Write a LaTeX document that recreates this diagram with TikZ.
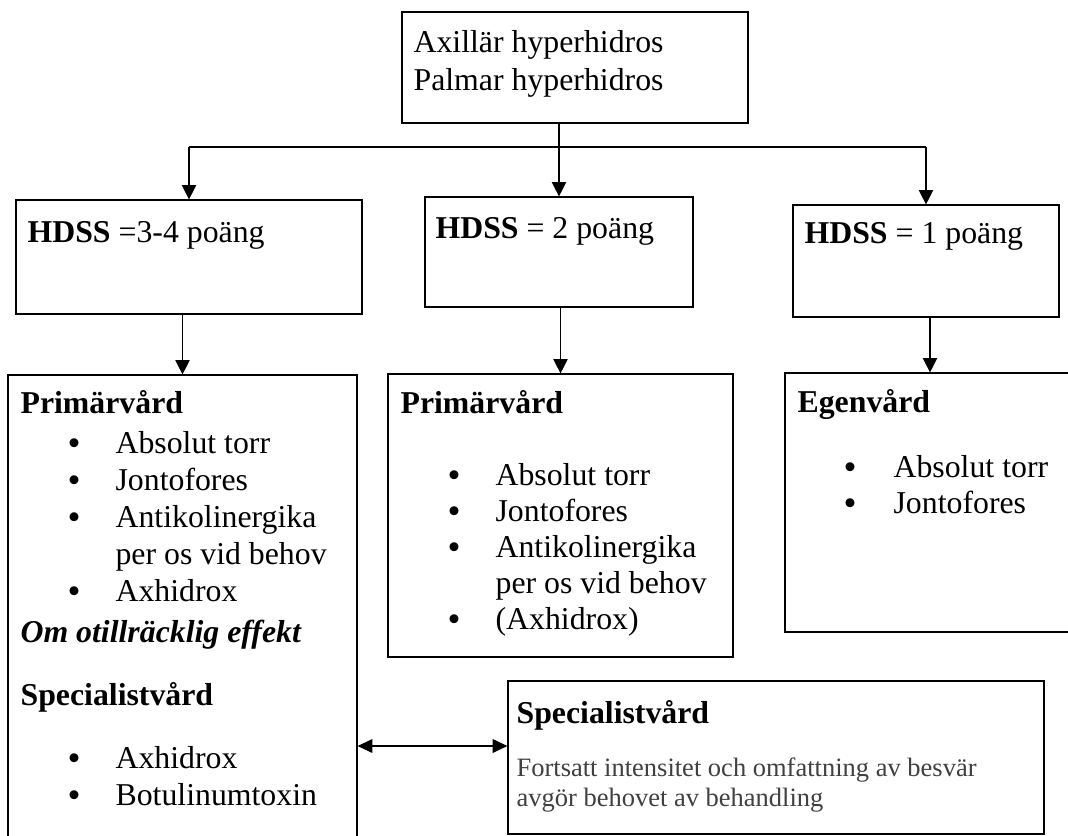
\documentclass[tikz,border=0pt]{standalone}
\usepackage{fontspec}
\setmainfont{Liberation Serif}
\usetikzlibrary{arrows.meta, fit}
\definecolor{notegray}{HTML}{404040}

\begin{document}
\begin{tikzpicture}[x=0.3774pt, y=-0.3774pt, line width=0.45pt,
  box/.style={draw, inner sep=0pt},
  txt/.style={anchor=base west, inner sep=0pt, font=\fontsize{12}{14}\selectfont},
  head/.style={txt, font=\fontsize{12}{14}\selectfont\bfseries},
  bul/.style={txt, font=\fontsize{14}{14}\selectfont, yshift=-0.8pt},
  note/.style={txt, font=\fontsize{10}{12}\selectfont, text=notegray},
  arr/.style={-{Triangle[length=5.4pt, width=5.4pt]}},
  dblarr/.style={{Triangle[length=5.6pt, width=5.2pt]}-{Triangle[length=5.6pt, width=5.2pt]}}]
% page 1068 x 835 px, y grows downwards
\useasboundingbox (0,0) rectangle (1068,835);
\clip (0,0) rectangle (1068,835);
% boxes
\node[box, fit={(402,12) (748,123)}] (top) {};
\node[box, fit={(16,200) (362,314)}] (b1) {};
\node[box, fit={(425,197) (693,307)}] (b2) {};
\node[box, fit={(793,205) (1059,317)}] (b3) {};
\node[box, fit={(8,375) (357,850)}] (l1) {};
\node[box, fit={(388,374) (733,657)}] (l2) {};
\node[box, fit={(785,373) (1075,632)}] (l3) {};
\node[box, fit={(508,681) (1044,834)}] (sp) {};
% top box
\node[txt] (ax) at (413,52) {Axillär hyperhidros};
\node[txt] (pa) at (413,90) {Palmar hyperhidros};
% HDSS boxes
\node[txt] (h1) at (27,242) {\textbf{HDSS} =3-4 poäng};
\node[txt] (h2) at (435,238) {\textbf{HDSS} = 2 poäng};
\node[txt] (h3) at (804,243) {\textbf{HDSS} = 1 poäng};
% HDSS 3-4: primary care, then specialist care
\node[head] (lhead) at (20,413) {Primärvård};
\foreach \y/\t [count=\i] in {453/Absolut torr, 490/Jontofores, 527/Antikolinergika, 601/Axhidrox} {
  \node[bul] (ldot\i) at (67,\y) {\smash{•}};
  \node[txt] (litem\i) at (115,\y) {\t};
}
\node[txt] (lcont) at (115,564) {per os vid behov};
\node[head, font=\fontsize{12}{14}\selectfont\bfseries\itshape] (lnote) at (20,642) {Om otillräcklig effekt};
\node[head] (lspec) at (20,705) {Specialistvård};
\foreach \y/\t [count=\i] in {768/Axhidrox, 805/Botulinumtoxin} {
  \node[bul] (sdot\i) at (67,\y) {\smash{•}};
  \node[txt] (sitem\i) at (115,\y) {\t};
}
% HDSS 2
\node[head] (mhead) at (400,413) {Primärvård};
\foreach \y/\t [count=\i] in {485/Absolut torr, 521/Jontofores, 557/Antikolinergika, 629/(Axhidrox)} {
  \node[bul] (mdot\i) at (447,\y) {\smash{•}};
  \node[txt] (mitem\i) at (495,\y) {\t};
}
\node[txt] (mcont) at (495,593) {per os vid behov};
% HDSS 1
\node[head] (rhead) at (797,412) {Egenvård};
\foreach \y/\t [count=\i] in {477/Absolut torr, 513/Jontofores} {
  \node[bul] (rdot\i) at (843,\y) {\smash{•}};
  \node[txt] (ritem\i) at (893,\y) {\t};
}
% specialist box
\node[head] (sphead) at (516,723) {Specialistvård};
\node[note] (sp1) at (516,776) {Fortsatt intensitet och omfattning av besvär};
\node[note] (sp2) at (516,806) {avgör behovet av behandling};
% connectors
\coordinate (split) at (557,147);
\coordinate (dbl) at (0,746);
\draw[arr] (top.south -| b2.north) -- (b2.north);
\draw (split -| b1.north) -- (split -| b3.north);
\draw[arr] (split -| b1.north) -- (b1.north);
\draw[arr] (split -| b3.north) -- (b3.north);
\draw[arr] (b1.south -| l1.north) -- (l1.north);
\draw[arr] (b2.south -| l2.north) -- (l2.north);
\draw[arr] (b3.south -| l3.north) -- (l3.north);
\draw[dblarr] (l1.east |- dbl) -- (sp.west |- dbl);
\end{tikzpicture}
\end{document}
